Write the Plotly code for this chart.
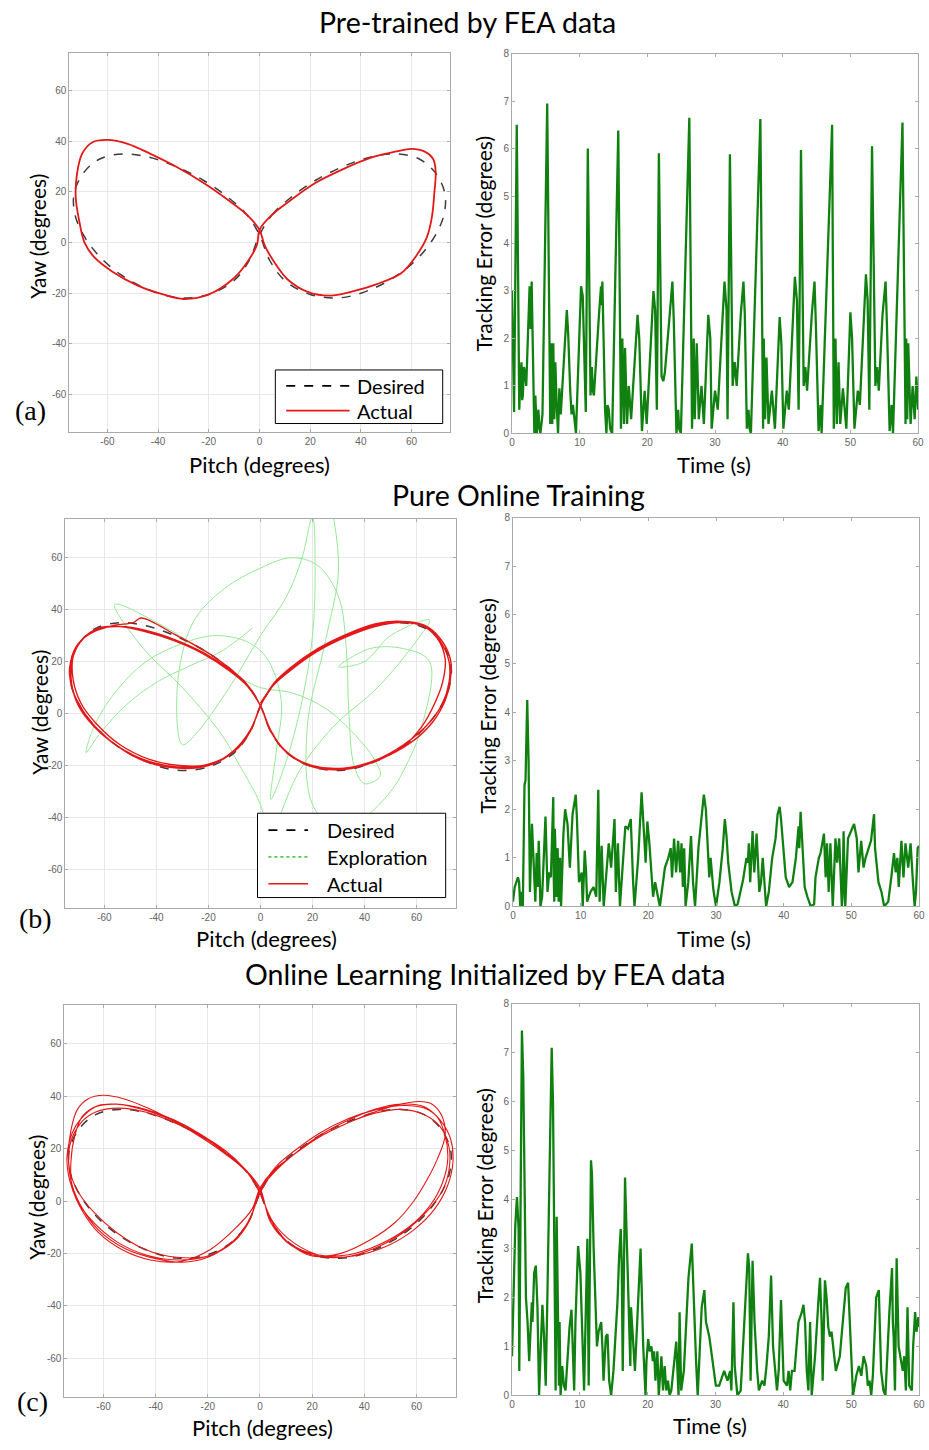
import plotly.graph_objects as go

W, H = 929, 1450


def px(x):
    return x / W


def py(y):
    return 1 - y / H


# ---------------- data ----------------
# reference figure-eight trajectory (pitch, yaw) in degrees
desired_path = [(0, 3), (5, 11), (12, 17.5), (22, 24.5), (33, 30), (44, 33.8), (54, 35), (63, 33), (69, 28),
                (73, 20), (73, 12), (70, 4), (64, -4.5), (55, -12.5), (44, -18.5), (32, -21.8), (20, -20.5),
                (10, -15), (4, -7), (0, 3), (-5, 11), (-12, 17.5), (-22, 24.5), (-33, 30), (-44, 33.8),
                (-54, 35), (-63, 33), (-69, 28), (-73, 20), (-73, 12), (-70, 4), (-64, -4.5), (-55, -12.5),
                (-44, -18.5), (-32, -21.8), (-20, -20.5), (-10, -15), (-4, -7), (0, 3)]

# (a) pre-trained by FEA data: measured trajectory
actual_pre = [(0, 5), (5, 11), (12, 16.5), (22, 23.5), (33, 29), (44, 33.5), (54, 36), (60, 37), (65, 36),
              (68.5, 33), (69.5, 28), (69, 20), (68, 10), (66, 2), (62, -5), (56, -12), (46, -16.5),
              (36, -19.5), (28, -21), (19, -19.5), (11, -14.5), (6, -8), (2, -1), (0, 5), (-5, 11),
              (-12, 16.5), (-22, 23.5), (-33, 30), (-43, 35), (-52, 39), (-60, 40.5), (-66, 39.5),
              (-70, 35), (-72, 27), (-72.5, 18), (-71, 8), (-69, 0), (-65, -6), (-58, -11.5), (-48, -17),
              (-38, -20.5), (-30, -22.3), (-20, -20.5), (-10, -14), (-5, -8), (-1, -1), (0, 5)]

# (b) pure online training: exploration phase and three tracked loops
exploration = [(-3, 33), (-15, 24), (-28, 18), (-40, 12), (-52, 3), (-62, -8), (-67, -15), (-64, -5), (-56, 8),
               (-44, 20), (-30, 27), (-18, 30), (-6, 28), (2, 22), (8, 5), (6, -15), (4, -33), (10, -18),
               (16, 5), (20, 30), (21, 55), (20, 76), (16, 60), (10, 45), (0, 30), (-12, 10), (-25, -8),
               (-30, -12), (-32, 10), (-26, 35), (-14, 48), (0, 56), (12, 60), (22, 57), (30, 45), (33, 25),
               (34, 0), (36, -20), (40, -27), (46, -24), (44, -18), (38, -10), (25, 2), (12, 8), (0, 10),
               (-10, 15), (-22, 24), (-38, 34), (-56, 42), (-45, 25), (-30, 10), (-15, -8), (-8, -20),
               (0, -35), (4, -50), (8, -38), (15, -22), (28, -5), (45, 10), (60, 28), (65, 36), (50, 30),
               (40, 20), (30, 18), (42, 25), (55, 25), (65, 20), (62, -5), (55, -22), (50, -30), (40, -40),
               (30, -45), (20, -35), (18, -5), (25, 28), (30, 55), (28, 76)]

online_loop1 = [(0, 4), (5, 11), (12, 17), (22, 24), (33, 29.5), (44, 33.5), (54, 35), (63, 33.5), (69, 28),
                (72.5, 20), (72.5, 12), (70, 4), (64, -4.5), (55, -12), (44, -18), (32, -21), (20, -20),
                (10, -15), (4, -7), (0, 3), (-5, 11), (-12, 17), (-22, 23.5), (-33, 28.5), (-44, 32),
                (-54, 33.5), (-63, 32.5), (-69, 28), (-72.5, 20), (-72.5, 11), (-70, 3), (-64, -5),
                (-55, -12.5), (-44, -18), (-32, -20.5), (-20, -19.5), (-10, -14.5), (-4, -7), (0, 3)]
online_loop2 = [(5, 11), (12, 17.5), (22, 24.5), (33, 30), (44, 34), (54, 35.5), (63, 34), (69, 29), (73, 21),
                (73, 13), (71, 5), (66, -3.5), (58, -11), (46, -17.5), (33, -21), (21, -20.5), (11, -15.5),
                (4, -7), (0, 3), (-5, 11), (-12, 17.5), (-22, 24.5), (-33, 30.5), (-42, 35.5), (-46, 36.8),
                (-49, 35), (-56, 34), (-64, 31.5), (-70, 27), (-73, 20), (-73, 12), (-70, 4), (-64, -4.5),
                (-55, -12.5), (-44, -18.5), (-32, -21), (-20, -20), (-10, -14.5), (-4, -7), (0, 3)]
online_loop3 = [(5, 11.5), (12, 18), (22, 25), (33, 30.5), (44, 34.5), (53, 35.5), (62, 34), (68, 29),
                (71, 21), (70, 12), (67, 4), (62, -5), (55, -12.5), (44, -18.5), (32, -21.5), (20, -20.5),
                (10, -15), (4, -6.5), (0, 3), (-5, 10.5), (-12, 16.5), (-22, 23), (-33, 28), (-44, 31.5),
                (-54, 33.5), (-62, 33), (-68, 29), (-72, 22), (-72, 13), (-69, 4), (-63, -4), (-54, -12),
                (-43, -17.5), (-31, -20), (-19, -19.5), (-10, -14), (-4, -6.5), (0, 3)]

# (c) online learning initialized by FEA data: four tracked loops
init_loop1 = [(0, 5), (5, 11.5), (12, 17), (22, 24), (33, 29.5), (44, 34), (54, 37), (61, 38), (66, 37),
              (70, 32), (71, 25), (68, 16), (64, 8), (59, 0), (52, -8), (42, -15), (31, -20), (20, -21),
              (11, -16), (4, -7), (0, 4), (-5, 11), (-12, 17), (-22, 24), (-33, 30.5), (-43, 35.5),
              (-52, 39), (-60, 40.4), (-66, 39), (-70, 35), (-72.5, 27), (-73.5, 17), (-72, 6), (-68, -3),
              (-62, -11), (-52, -18), (-40, -22), (-30, -23.4), (-20, -21.5), (-10, -15), (-4, -7), (0, 4)]
init_loop2 = [(5, 10.5), (12, 17), (22, 24.5), (33, 30.5), (44, 35), (54, 37), (63, 36), (69, 31), (73, 24),
              (74, 15), (72, 6), (67, -3), (59, -11), (48, -17.5), (36, -21), (24, -21), (13, -16), (5, -8),
              (0, 3), (-5, 11), (-12, 17.5), (-22, 25), (-33, 31), (-44, 35), (-55, 37), (-63, 36),
              (-69, 31), (-72, 26), (-74, 17), (-73, 8), (-70, 0), (-64, -8), (-55, -15.5), (-44, -20.5),
              (-32, -22.5), (-20, -21), (-10, -15), (-4, -7), (0, 3)]
init_loop3 = [(5, 11), (12, 17), (22, 24), (33, 29.5), (44, 33.5), (54, 35), (63, 33), (69, 28.5),
              (72.5, 20.5), (72.5, 12), (70, 4), (64, -4), (55, -12), (44, -18), (32, -21.5), (20, -20.5),
              (10, -15.5), (4, -7), (0, 4), (-5, 11), (-12, 17.5), (-22, 24.5), (-33, 30), (-44, 34),
              (-54, 35.5), (-63, 34), (-69, 29.5), (-73, 21), (-73, 12), (-70, 4), (-64, -4), (-55, -12),
              (-44, -18.5), (-32, -21.5), (-20, -21), (-10, -15.5), (-4, -7.5), (0, 4)]
init_loop4 = [(6, 13), (13, 19), (23, 26), (34, 31.5), (45, 35), (55, 36.5), (63, 35.5), (68, 32), (71, 25),
              (72, 16), (70, 7), (65, -2), (57, -10), (46, -16.5), (34, -20.5), (22, -20.5), (11, -16),
              (4, -8), (0, 5), (-6, 12.5), (-13, 19), (-23, 25.5), (-34, 31), (-45, 35), (-55, 37),
              (-62, 36.5), (-68, 32.5), (-71, 25), (-72.5, 15), (-72, 5), (-68, -4), (-62, -12),
              (-53, -18.5), (-42, -22.5), (-30, -23), (-19, -18.5), (-9, -10), (-3, -3), (0, 5)]

# tracking error (time s, error degrees)
error_pre = [(0, 3.0), (0.3, 0.45), (0.7, 6.5), (1.07, 0.5), (1.25, 1.2), (1.4, 1.5), (1.5, 0.7), (1.6, 0.8),
             (1.75, 1.4), (1.9, 1.3), (2.1, 1.0), (2.4, 2.5), (2.6, 3.1), (2.75, 2.2), (2.9, 3.2), (3.3, 0.0),
             (3.45, 0.8), (3.65, 0.0), (3.9, 0.5), (4.05, 0.1), (4.2, 0.0), (4.5, 0.4), (5.2, 6.95),
             (5.65, 0.2), (5.8, 1.9), (5.95, 0.2), (6.1, 1.9), (6.25, 0.3), (6.4, 1.5), (6.6, 0.6),
             (6.8, 0.0), (7.0, 0.95), (7.2, 0.4), (8.1, 2.6), (8.3, 2.1), (8.6, 0.9), (8.8, 0.4), (9.0, 0.6),
             (9.45, 0.0), (10.2, 3.1), (10.45, 2.9), (10.9, 0.45), (11.2, 6.0), (11.6, 0.8), (11.8, 1.4),
             (11.95, 0.9), (12.1, 0.8), (12.85, 2.5), (13.15, 3.1), (13.25, 2.7), (13.35, 3.2),
             (13.75, 0.5), (13.95, 0.0), (14.1, 0.6), (14.3, 0.5), (14.5, 0.1), (14.8, 0.0), (15.7, 6.38),
             (16.1, 0.1), (16.3, 2.0), (16.55, 0.2), (16.7, 1.8), (17.0, 0.2), (17.25, 1.0), (17.45, 0.6),
             (17.6, 0.3), (18.55, 2.5), (18.8, 2.0), (19.2, 0.05), (19.6, 0.9), (19.9, 0.2), (20.9, 3.0),
             (21.15, 2.6), (21.4, 0.5), (21.7, 5.9), (22.1, 1.2), (22.35, 1.1), (22.6, 1.3), (23.3, 2.5),
             (23.7, 3.2), (23.9, 2.4), (24.3, 0.0), (24.55, 0.5), (24.7, 0.1), (24.95, 0.0), (26.2, 6.65),
             (26.6, 0.1), (26.85, 2.0), (27.0, 0.3), (27.3, 1.9), (27.6, 0.3), (28.0, 1.0), (28.35, 0.2),
             (29.0, 2.5), (29.3, 2.0), (29.5, 0.1), (30.0, 0.9), (30.4, 0.5), (31.4, 3.2), (31.7, 2.6),
             (31.85, 0.3), (32.2, 5.88), (32.6, 1.0), (32.9, 1.5), (33.2, 1.0), (33.8, 2.5), (34.2, 3.2),
             (34.4, 2.5), (34.7, 0.1), (34.95, 0.5), (35.1, 0.1), (35.3, 0.0), (36.7, 6.62), (37.1, 0.1),
             (37.2, 2.0), (37.4, 0.3), (37.6, 1.6), (37.9, 0.2), (38.4, 0.9), (38.85, 0.1), (39.55, 2.45),
             (39.8, 1.9), (40.1, 0.1), (40.6, 0.9), (40.9, 0.5), (41.8, 3.3), (42.1, 2.8), (42.35, 0.5),
             (42.7, 5.97), (43.1, 1.0), (43.35, 1.4), (43.6, 0.9), (44.3, 2.5), (44.7, 3.2), (44.9, 2.3),
             (45.3, 0.05), (45.6, 0.6), (45.75, 0.0), (47.3, 6.5), (47.55, 0.1), (47.8, 2.0), (48.0, 0.2),
             (48.25, 1.5), (48.5, 0.2), (48.9, 0.95), (49.4, 0.1), (50.0, 2.55), (50.25, 2.0), (50.6, 0.1),
             (51.1, 0.9), (51.4, 0.6), (52.3, 3.35), (52.55, 2.8), (52.8, 0.5), (53.2, 6.05), (53.7, 1.0),
             (53.95, 1.4), (54.2, 0.9), (54.75, 2.5), (55.2, 3.2), (55.4, 2.3), (55.8, 0.05), (56.1, 0.6),
             (56.3, 0.0), (57.7, 6.55), (58.15, 0.2), (58.25, 2.0), (58.4, 0.3), (58.55, 1.9), (58.9, 0.2),
             (59.2, 1.0), (59.5, 0.3), (59.75, 1.2), (60.0, 0.5)]

error_online = [(0, 0.1), (0.25, 0.4), (0.73, 0.6), (0.9, 0.5), (1.07, 0.0), (1.2, 0.3), (1.45, 0.0),
                (1.7, 2.5), (1.85, 2.6), (2.1, 4.25), (2.3, 3.0), (2.5, 0.3), (2.8, 1.7), (3.05, 1.0),
                (3.3, 0.1), (3.5, 1.1), (3.65, 0.4), (3.8, 1.35), (4.05, 0.0), (4.3, 0.2), (4.5, 1.0),
                (4.8, 1.85), (5.1, 0.3), (5.35, 0.7), (5.6, 0.6), (5.95, 2.25), (6.02, 0.6), (6.1, 0.1),
                (6.18, 1.6), (6.25, 1.3), (6.32, 0.3), (6.45, 0.2), (6.52, 1.0), (6.6, 1.2), (6.68, 0.4),
                (6.75, 0.1), (6.85, 0.8), (6.95, 1.0), (7.1, 0.0), (7.45, 1.5), (7.7, 2.0),
                (8.05, 1.7), (8.4, 0.8), (8.8, 1.9), (9.27, 2.3), (9.45, 1.8), (9.75, 0.5), (10.15, 0.7),
                (10.3, 0.0), (10.6, 1.15), (10.8, 0.7), (10.95, 0.1), (11.45, 0.3), (11.9, 0.4), (12.3, 0.2),
                (12.6, 2.4), (12.8, 0.1), (13.1, 1.25), (13.4, 0.0), (13.65, 0.5), (14.15, 1.3), (14.5, 0.8),
                (15.0, 1.8), (15.2, 0.3), (15.5, 1.3), (15.8, 0.0), (16.6, 1.65), (17.0, 1.6), (17.4, 1.8),
                (17.75, 0.5), (17.95, 0.0), (18.5, 1.0), (19.0, 2.35), (19.4, 1.4), (19.6, 0.9),
                (19.85, 1.75), (20.15, 1.3), (20.7, 0.2), (21.0, 0.5), (21.7, 0.0), (22.2, 0.5),
                (22.45, 0.8), (22.95, 1.0), (23.3, 1.2), (23.5, 0.6), (23.8, 1.4), (24.1, 0.7), (24.4, 1.35),
                (24.7, 0.7), (24.9, 1.3), (25.1, 0.4), (25.3, 1.2), (25.5, 0.0), (25.9, 0.5), (26.3, 1.45),
                (26.6, 0.5), (26.9, 0.0), (27.4, 1.2), (28.2, 2.3), (28.5, 2.0), (29.0, 0.6), (29.2, 1.0),
                (29.6, 0.35), (30.0, 0.0), (30.5, 0.5), (31.0, 1.2), (31.3, 1.8), (31.55, 1.45), (31.8, 0.9),
                (32.3, 0.3), (32.8, 0.0), (33.2, 0.05), (33.6, 0.3), (34.0, 0.55), (34.5, 1.0), (34.7, 0.9),
                (34.85, 1.3), (35.05, 0.5), (35.4, 1.55), (35.65, 0.7), (36.0, 1.5), (36.4, 0.3),
                (36.65, 0.5), (36.9, 1.0), (37.4, 0.0), (37.8, 0.3), (38.3, 1.0), (38.8, 1.4), (39.1, 1.9),
                (39.4, 2.05), (39.6, 1.8), (39.9, 1.3), (40.3, 0.6), (40.8, 0.4), (41.3, 0.5), (41.8, 1.0),
                (42.0, 1.3), (42.2, 1.65), (42.3, 1.2), (42.5, 1.95), (42.75, 1.3), (43.1, 0.4), (43.5, 0.2),
                (44.0, 0.0), (44.5, 0.05), (44.7, 0.6), (45.2, 1.0), (45.45, 1.1), (45.95, 1.5), (46.2, 0.6),
                (46.4, 1.3), (46.65, 0.3), (46.9, 1.3), (47.25, 0.0), (47.65, 1.4), (47.9, 0.9), (48.2, 1.4),
                (48.6, 0.0), (48.7, 0.2), (48.85, 1.55), (49.1, 0.0), (49.5, 1.4), (50.1, 1.6), (50.4, 1.7),
                (50.8, 1.4), (51.05, 0.7), (51.45, 1.35), (51.8, 0.8), (52.1, 1.0), (52.9, 1.35),
                (53.35, 1.9), (53.5, 1.2), (54.0, 0.5), (54.45, 0.3), (54.85, 0.0), (55.45, 0.1),
                (55.9, 0.6), (56.3, 1.1), (56.55, 0.7), (56.8, 1.0), (57.0, 0.4), (57.4, 1.35), (57.7, 0.6),
                (58.0, 1.3), (58.4, 0.8), (58.75, 1.3), (59.1, 0.5), (59.35, 0.0), (59.55, 0.3), (59.8, 1.2),
                (60.0, 1.25)]

error_init = [(0, 0.8), (0.49, 3.5), (0.73, 4.05), (0.97, 3.4), (1.07, 0.5), (1.46, 7.45), (1.66, 6.5),
              (2.05, 2.0), (2.29, 1.5), (2.53, 0.7), (2.92, 1.9), (3.02, 1.5), (3.26, 2.5), (3.51, 2.65),
              (3.75, 1.8), (3.99, 0.0), (4.24, 1.0), (4.48, 1.85), (4.72, 1.2), (4.97, 0.2), (5.21, 2.0),
              (5.55, 4.5), (5.85, 7.1), (6.04, 6.0), (6.43, 0.1), (6.58, 3.65), (6.82, 1.5), (6.92, 0.2),
              (7.01, 1.5), (7.16, 0.0), (7.4, 0.6), (7.65, 0.2), (7.89, 0.1), (8.28, 1.0), (8.48, 1.4),
              (8.77, 1.75), (8.96, 1.0), (9.16, 0.1), (9.35, 1.5), (9.6, 2.8), (9.74, 3.05), (10.08, 2.5),
              (10.42, 1.0), (10.62, 0.1), (11.11, 3.2), (11.3, 0.2), (11.64, 4.8), (11.79, 4.5),
              (12.03, 3.0), (12.27, 1.8), (12.52, 1.0), (12.76, 1.3), (13.15, 1.5), (13.35, 0.9),
              (13.49, 0.3), (13.83, 1.2), (14.08, 1.25), (14.32, 0.3), (14.61, 0.0), (14.95, 0.5),
              (15.54, 1.9), (15.78, 2.8), (16.03, 3.4), (16.17, 2.7), (16.32, 0.5), (16.66, 4.45),
              (16.85, 3.5), (17.15, 2.2), (17.44, 0.6), (17.54, 1.8), (17.73, 1.4), (18.12, 0.5),
              (18.95, 3.0), (19.34, 1.0), (19.68, 0.0), (19.82, 0.7), (20.07, 1.15), (20.3, 0.9),
              (20.55, 1.0), (20.75, 0.7), (20.95, 0.9), (21.14, 0.3), (21.43, 0.9), (21.63, 0.0),
              (22.02, 0.8), (22.26, 0.1), (22.5, 0.6), (22.75, 0.1), (22.99, 0.3), (23.23, 0.0),
              (23.48, 0.1), (24.21, 1.1), (24.45, 0.3), (24.55, 0.0), (24.7, 1.7), (24.94, 0.1),
              (25.33, 0.5), (26.01, 2.4), (26.5, 3.1), (26.74, 2.0), (27.13, 0.7), (27.37, 0.0),
              (27.76, 1.3), (27.96, 1.8), (28.35, 2.15), (28.59, 1.5), (29.08, 1.2), (29.57, 0.7),
              (30.05, 0.2), (30.54, 0.2), (31.27, 0.5), (31.76, 0.3), (32.15, 0.5), (32.34, 0.1),
              (32.64, 1.9), (32.83, 0.6), (33.22, 0.0), (33.71, 0.1), (34.19, 1.5), (34.78, 2.9),
              (34.97, 2.6), (35.17, 0.3), (35.46, 2.75), (35.75, 1.5), (36.14, 0.5), (36.39, 0.1),
              (36.87, 0.3), (37.21, 0.2), (37.51, 0.6), (37.85, 1.2), (38.19, 2.45), (38.48, 1.0),
              (39.06, 0.1), (39.31, 0.5), (39.65, 1.95), (39.84, 1.3), (40.04, 0.3), (40.53, 0.2),
              (40.77, 0.5), (41.01, 0.1), (41.26, 0.5), (41.65, 0.5), (41.99, 1.1), (42.23, 1.5),
              (42.72, 1.7), (42.96, 1.85), (43.2, 1.5), (43.45, 0.5), (43.69, 0.1), (43.94, 1.5),
              (44.18, 0.0), (44.67, 0.8), (45.15, 1.9), (45.4, 2.4), (45.64, 1.5), (45.79, 0.3),
              (46.13, 2.35), (46.37, 2.0), (46.62, 1.4), (46.86, 1.2), (47.1, 1.3), (47.35, 1.0),
              (47.55, 0.8), (47.74, 0.5), (48.32, 0.8), (48.81, 1.5), (49.2, 2.2), (49.54, 2.3),
              (49.78, 1.5), (50.02, 0.5), (50.27, 0.0), (50.75, 0.4), (51.14, 0.6), (51.49, 0.4),
              (51.83, 0.8), (52.22, 0.6), (52.45, 0.2), (52.7, 0.3), (52.95, 0.0), (53.19, 0.4),
              (53.43, 1.2), (53.68, 2.0), (54.07, 2.15), (54.41, 0.5), (54.75, 0.1), (55.04, 0.0),
              (55.63, 1.7), (56.02, 2.6), (56.14, 1.5), (56.26, 1.2), (56.45, 0.1), (56.7, 2.8),
              (56.99, 1.0), (57.33, 0.7), (57.6, 0.5), (57.82, 0.8), (58.06, 0.1), (58.3, 1.8),
              (58.55, 0.2), (58.94, 0.1), (59.13, 1.0), (59.42, 1.7), (59.62, 1.3), (59.91, 1.6),
              (60.0, 1.4)]

angle_ticks = [-60, -40, -20, 0, 20, 40, 60]
angle_labels = ["-60", "-40", "-20", "0", "20", "40", "60"]
time_ticks = [0, 10, 20, 30, 40, 50, 60]
error_ticks = [0, 1, 2, 3, 4, 5, 6, 7, 8]

row_titles = ["Pre-trained by FEA data", "Pure Online Training", "Online Learning Initialized by FEA data"]
panel_tags = ["(a)", "(b)", "(c)"]

# ---------------- styling ----------------
SANS = "Lato"
RED = "rgb(228,24,24)"
GREEN = "rgb(16,128,16)"
DASH_COL = "rgb(60,60,60)"
EXPLORE = "rgb(150,232,150)"
FRAME = "rgb(170,170,170)"


def xy(path):
    return [p[0] for p in path], [p[1] for p in path]


def join(*loops):
    out = []
    for lp in loops:
        out.extend(lp)
    return out


fig = go.Figure()

# subplot domains (paper fractions)
traj_domains = [
    ([px(67), px(451)], [py(430), py(47)]),
    ([px(63), px(457)], [py(910), py(517)]),
    ([px(62), px(457)], [py(1403), py(1007)]),
]
err_domains = [
    ([px(514), px(924)], [py(431), py(48)]),
    ([px(515), px(925)], [py(908), py(516)]),
    ([px(514), px(925)], [py(1401), py(1006)]),
]

tickfont = dict(family="Liberation Sans", size=10, color="rgb(100,100,100)")
common = dict(zeroline=False, showline=True, linecolor=FRAME, linewidth=1, mirror="ticks", ticks="inside",
              ticklen=3, tickcolor=FRAME, tickfont=tickfont, fixedrange=True, ticklabeloverflow="allow")

layout_axes = {}
for r in range(3):
    a_traj = 2 * r + 1
    a_err = 2 * r + 2
    sx = "" if a_traj == 1 else str(a_traj)
    layout_axes["xaxis" + sx] = dict(
        domain=traj_domains[r][0], anchor="y" + sx, range=[-75, 75], tickvals=angle_ticks,
        ticktext=angle_labels, showgrid=True, gridcolor="rgb(232,232,232)", gridwidth=1, **common)
    layout_axes["yaxis" + sx] = dict(
        domain=traj_domains[r][1], anchor="x" + sx, range=[-75, 75], tickvals=angle_ticks,
        ticktext=angle_labels, showgrid=True, gridcolor="rgb(232,232,232)", gridwidth=1, **common)
    se = str(a_err)
    layout_axes["xaxis" + se] = dict(
        domain=err_domains[r][0], anchor="y" + se, range=[0, 60], tickvals=time_ticks, showgrid=False,
        **common)
    layout_axes["yaxis" + se] = dict(
        domain=err_domains[r][1], anchor="x" + se, range=[0, 8], tickvals=error_ticks, showgrid=False,
        **common)


def axref(n):
    return ("x", "y") if n == 1 else ("x" + str(n), "y" + str(n))


def add_path(path, n, color, width, dash="solid", smooth=True):
    xr, yr = axref(n)
    xs, ys = xy(path)
    fig.add_trace(go.Scatter(
        x=xs, y=ys, mode="lines", xaxis=xr, yaxis=yr, showlegend=False, hoverinfo="skip",
        line=dict(color=color, width=width, dash=dash, shape="spline" if smooth else "linear",
                  smoothing=1.0)))


# (a)
add_path(desired_path, 1, DASH_COL, 1.5, "dash")
add_path(actual_pre, 1, RED, 1.8)
add_path(error_pre, 2, GREEN, 2.3, smooth=False)

# (b)
add_path(exploration, 3, EXPLORE, 1.0)
add_path(desired_path, 3, DASH_COL, 1.5, "dash")
add_path(join(online_loop1, online_loop2, online_loop3), 3, RED, 1.4)
add_path(error_online, 4, GREEN, 2.3, smooth=False)

# (c)
add_path(desired_path, 5, DASH_COL, 1.5, "dash")
add_path(join(init_loop1, init_loop2, init_loop3, init_loop4), 5, RED, 1.1)
add_path(error_init, 6, GREEN, 2.3, smooth=False)

# ---------------- text ----------------
annotations = []


def label(text, x, y, size, angle=0, family=SANS, xanchor="center", color="black"):
    annotations.append(dict(text=text, x=px(x), y=py(y), xref="paper", yref="paper", showarrow=False,
                            xanchor=xanchor, yanchor="middle", textangle=angle,
                            font=dict(family=family, size=size, color=color)))


title_pos = [(469, 16), (521, 493), (487, 976)]
for r in range(3):
    label(row_titles[r], title_pos[r][0], title_pos[r][1], 28.5)

pitch_pos = [(259, 462), (266, 940), (262, 1433)]
time_pos = [(718, 462), (718, 940), (714, 1431)]
yaw_pos = [(34, 232), (36, 712), (33, 1201)]
err_pos = [(485, 240), (489, 706), (486, 1200)]
tag_pos = [(28, 408), (33, 920), (30, 1407)]
for r in range(3):
    label("Pitch (degrees)", *pitch_pos[r], 22)
    label("Time (s)", *time_pos[r], 22)
    label("Yaw (degrees)", *yaw_pos[r], 21, angle=-90)
    label("Tracking Error (degrees)", *err_pos[r], 21, angle=-90)
    label(panel_tags[r], *tag_pos[r], 28, family="Liberation Serif")

# ---------------- legends ----------------
shapes = []


def legend_box(x0, y0, x1, y1):
    shapes.append(dict(type="rect", xref="paper", yref="paper", x0=px(x0), x1=px(x1), y0=py(y1), y1=py(y0),
                       line=dict(color="black", width=1), fillcolor="white", layer="above"))


def legend_line(x0, x1, y, color, width, dash):
    shapes.append(dict(type="line", xref="paper", yref="paper", x0=px(x0), x1=px(x1), y0=py(y), y1=py(y),
                       line=dict(color=color, width=width, dash=dash), layer="above"))


legend_box(275, 367, 444, 421)
legend_line(286, 350, 383, "black", 1.8, "dash")
legend_line(286, 350, 408, RED, 1.6, "solid")
label("Desired", 355, 383, 20, xanchor="left")
label("Actual", 355, 408, 20, xanchor="left")

legend_box(257, 814, 447, 899)
legend_line(268, 308, 831, "black", 1.8, "dash")
legend_line(268, 308, 858, "rgb(80,200,80)", 1.6, "dot")
legend_line(268, 308, 885, RED, 1.6, "solid")
label("Desired", 325, 831, 20, xanchor="left")
label("Exploration", 325, 858, 20, xanchor="left")
label("Actual", 325, 885, 20, xanchor="left")

fig.update_layout(
    width=W, height=H, margin=dict(l=0, r=0, t=0, b=0),
    paper_bgcolor="white", plot_bgcolor="white",
    annotations=annotations, shapes=shapes, showlegend=False,
    **layout_axes)

fig.write_html("out.html", config={"displayModeBar": False})
